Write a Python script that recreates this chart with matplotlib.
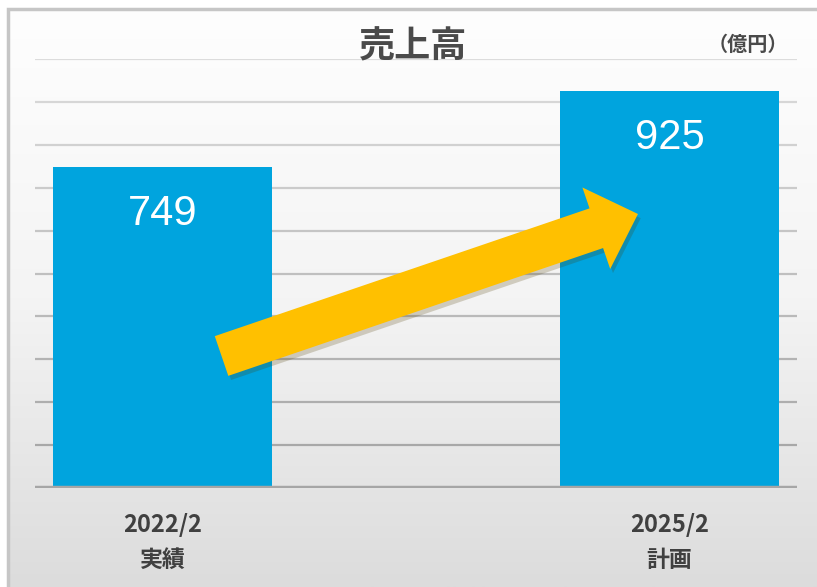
import numpy as np
import matplotlib.pyplot as plt
import matplotlib.patheffects as pe

plt.rcParams['font.family'] = ['Noto Sans CJK JP', 'DejaVu Sans']

years = ["2022/2", "2025/2"]
kinds = ["実績", "計画"]
sales = [749, 925]
grid_vals = list(range(100, 1001, 100))

W, H = 817, 587
fig = plt.figure(figsize=(W / 100, H / 100), dpi=100)
fig.patch.set_facecolor("white")

# background panel with vertical gradient and a thin frame
bg = fig.add_axes([0, 0, 1, 1], zorder=-5)
bg.set_xlim(0, W)
bg.set_ylim(H, 0)
bg.axis("off")
grad = np.linspace(0, 1, 256).reshape(-1, 1)
bg.imshow(grad, cmap=plt.matplotlib.colors.LinearSegmentedColormap.from_list(
    "g", ["#fefefe", "#f4f4f4", "#dcdcdc"]), extent=(8, W, H, 9), aspect="auto")
bg.plot([8, 8, W], [H, 9, 9], color="#c6c6c6", lw=2.5, solid_joinstyle="miter")

ax = fig.add_axes([35 / W, 99 / H, 762 / W, 429 / H])
ax.set_facecolor("none")
ax.set_xlim(-0.251, 1.251)
ax.set_ylim(0, 1000)
for s in ax.spines.values():
    s.set_visible(False)
ax.set_xticks([])
ax.set_yticks([])

# gridlines get darker towards the bottom
gcols = plt.matplotlib.colors.LinearSegmentedColormap.from_list(
    "gl", ["#a8a8a8", "#dcdcdc"])(np.linspace(0, 1, len(grid_vals)))
for v, c in zip(grid_vals, gcols):
    ax.axhline(v, color=c, lw=1.6, zorder=1)
ax.axhline(0, color="#a6a6a6", lw=3.2, zorder=4)

x = np.arange(len(sales))
ax.bar(x, sales, width=0.432, color="#00A4DE", zorder=2)

for xi, v in zip(x, sales):
    ax.annotate(str(v), (xi, v), xytext=(0, -34), textcoords="offset points",
                ha="center", va="center", color="white", fontsize=30,
                family="Liberation Sans", zorder=5)

tr = ax.get_xaxis_transform()
for xi, yr, k in zip(x, years, kinds):
    ax.text(xi, -0.086, yr, transform=tr, ha="center", va="center",
            fontsize=17, fontweight="bold", color="#404040")
    ax.text(xi, -0.168, k, transform=tr, ha="center", va="center",
            fontsize=16.5, fontweight="bold", color="#404040")

fig.text(413 / W, 1 - 47 / H, "売上高", ha="center", va="center",
         fontsize=26, fontweight="bold", color="#4a4a4a")
fig.text(748 / W, 1 - 44 / H, "（億円）", ha="center", va="center",
         fontsize=14.5, fontweight="bold", color="#4a4a4a")

# growth arrow
ax.annotate("", xy=(0.7913, 0.6387), xytext=(0.2448, 0.3077),
            xycoords="axes fraction", textcoords="axes fraction",
            arrowprops=dict(arrowstyle="simple,head_length=31.7,head_width=62,tail_width=30.2",
                            mutation_scale=1, fc="#FFC000", ec="none",
                            shrinkA=0, shrinkB=0,
                            path_effects=[pe.SimplePatchShadow(offset=(2, -3), alpha=0.22),
                                          pe.Normal()]),
            zorder=6, annotation_clip=False)

fig.savefig("out.png", dpi=100)
